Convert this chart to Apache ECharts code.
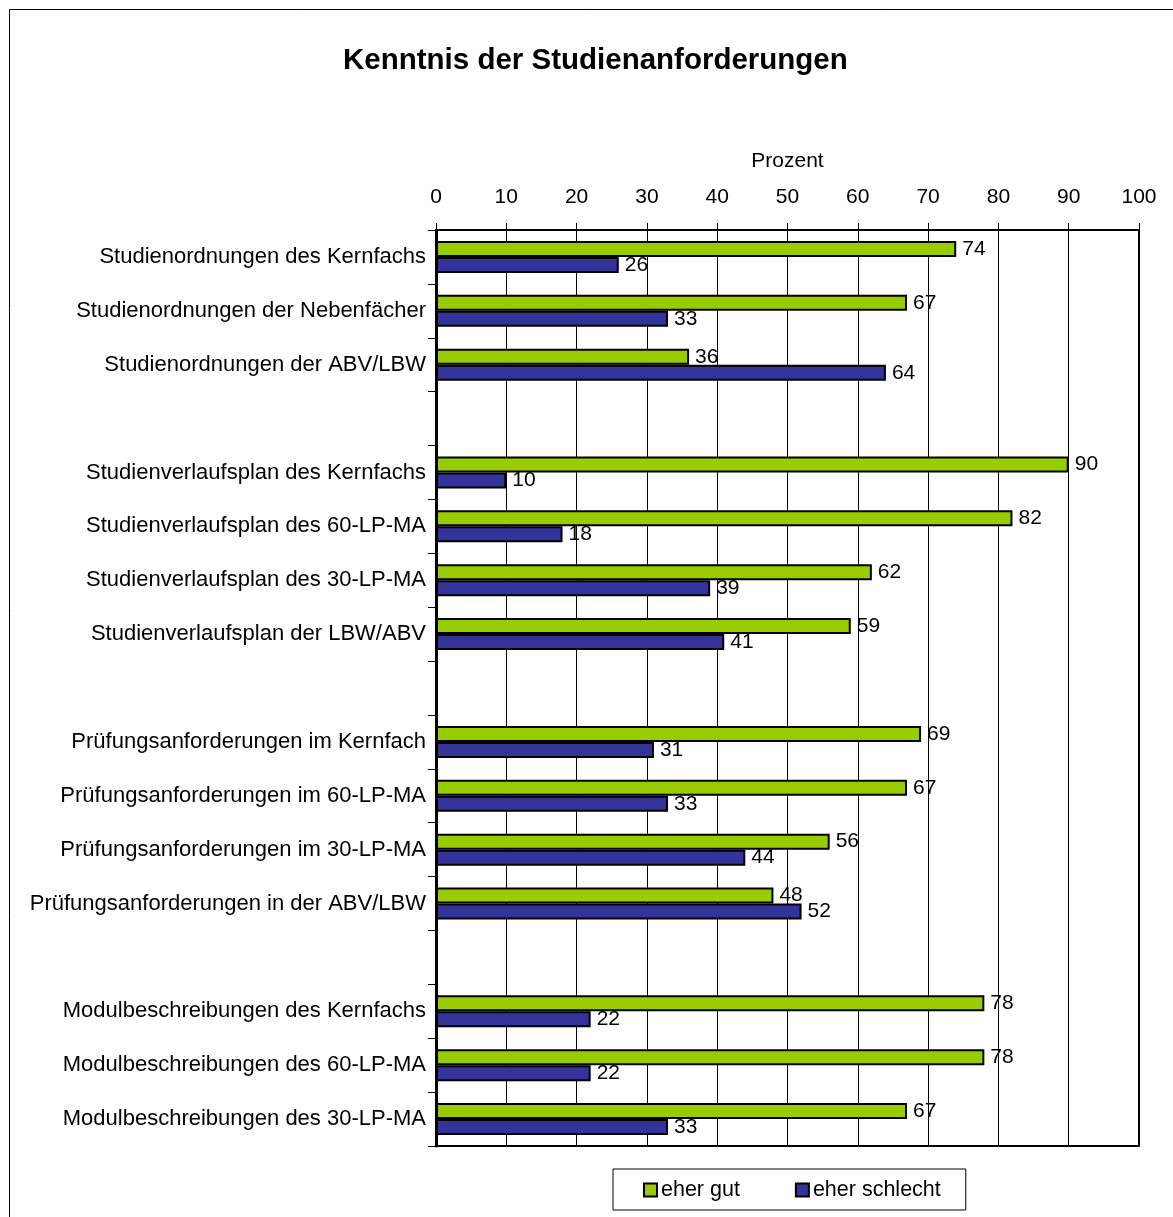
<!DOCTYPE html>
<html>
<head>
<meta charset="utf-8">
<script src="https://cdn.jsdelivr.net/npm/echarts@6/dist/echarts.min.js"></script>
<style>
html, body { margin: 0; padding: 0; background: #fff; }
#chart { width: 1173px; height: 1217px; }
</style>
</head>
<body>
<div id="chart"></div>
<script>
// Kategorien (leere Einträge = Abstand zwischen den Gruppen)
var categories = [
	'Studienordnungen des Kernfachs',
	'Studienordnungen der Nebenfächer',
	'Studienordnungen der ABV/LBW',
	'',
	'Studienverlaufsplan des Kernfachs',
	'Studienverlaufsplan des 60-LP-MA',
	'Studienverlaufsplan des 30-LP-MA',
	'Studienverlaufsplan der LBW/ABV',
	'',
	'Prüfungsanforderungen im Kernfach',
	'Prüfungsanforderungen im 60-LP-MA',
	'Prüfungsanforderungen im 30-LP-MA',
	'Prüfungsanforderungen in der ABV/LBW',
	'',
	'Modulbeschreibungen des Kernfachs',
	'Modulbeschreibungen des 60-LP-MA',
	'Modulbeschreibungen des 30-LP-MA'
];
var eherGut = [74, 67, 36, '-', 90, 82, 62, 59, '-', 69, 67, 56, 48, '-', 78, 78, 67];
var eherSchlecht = [26, 33, 64, '-', 10, 18, 39, 41, '-', 31, 33, 44, 52, '-', 22, 22, 33];
var axisTicks = [0, 10, 20, 30, 40, 50, 60, 70, 80, 90, 100];

var myChart = echarts.init(document.getElementById('chart'));
var barLabel = {
	show: true,
	position: 'right',
	distance: 6,
	color: '#000',
	fontSize: 21,
	fontFamily: 'Liberation Sans'
};
option = {
	backgroundColor: '#fff',
	animation: false,
	title: {
		text: 'Kenntnis der Studienanforderungen',
		left: 338,
		top: 41,
		textStyle: {
			color: '#000',
			fontFamily: 'Liberation Sans',
			fontSize: 29.5,
			fontWeight: 'bold'
		}
	},
	graphic: [{
		type: 'rect',
		shape: { x: 9.5, y: 9.5, width: 1180, height: 1220 },
		style: { fill: 'none', stroke: '#000', lineWidth: 1 },
		silent: true
	}],
	legend: {
		bottom: 7,
		left: 613,
		itemWidth: 13,
		itemHeight: 13,
		itemGap: 55,
		padding: [10, 25, 9, 30],
		borderColor: '#000',
		borderWidth: 1,
		textStyle: { fontFamily: 'Liberation Sans', fontSize: 21.5, color: '#000', padding: [0, 0, 0, -1] },
		data: [
			{ name: 'eher gut', icon: 'rect' },
			{ name: 'eher schlecht', icon: 'rect' }
		]
	},
	grid: {
		left: 436,
		right: 34,
		top: 230,
		bottom: 71
	},
	xAxis: [{
		type: 'value',
		position: 'top',
		min: 0,
		max: 100,
		interval: 10,
		name: 'Prozent',
		nameLocation: 'middle',
		nameGap: 58,
		nameTextStyle: { fontFamily: 'Liberation Sans', fontSize: 21, color: '#000' },
		axisLine: { show: true, lineStyle: { color: '#000', width: 2 } },
		axisTick: { show: true, length: 7, lineStyle: { color: '#000' } },
		axisLabel: {
			margin: 22,
			fontFamily: 'Liberation Sans',
			fontSize: 21,
			color: '#000',
			formatter: function (v) { return axisTicks.indexOf(v) >= 0 ? String(v) : ''; }
		},
		splitLine: { show: true, lineStyle: { color: '#000', width: 1 } }
	}, {
		// untere Rahmenlinie
		type: 'value',
		position: 'bottom',
		min: 0,
		max: 100,
		axisLine: { show: true, lineStyle: { color: '#000', width: 2 } },
		axisTick: { show: false },
		axisLabel: { show: false },
		splitLine: { show: false }
	}],
	yAxis: {
		type: 'category',
		inverse: true,
		data: categories,
		axisLine: { show: true, lineStyle: { color: '#000', width: 3 } },
		axisTick: { show: true, length: 8, lineStyle: { color: '#000' } },
		axisLabel: {
			margin: 10,
			fontFamily: 'Liberation Sans',
			fontSize: 22,
			color: '#000'
		}
	},
	series: [
		{
			name: 'eher gut',
			type: 'bar',
			data: eherGut,
			barWidth: 16,
			barGap: '0%',
			itemStyle: { color: '#99CC00', borderColor: '#000', borderWidth: 2 },
			label: barLabel
		},
		{
			name: 'eher schlecht',
			type: 'bar',
			data: eherSchlecht,
			barWidth: 16,
			barGap: '0%',
			itemStyle: { color: '#333399', borderColor: '#000', borderWidth: 2 },
			label: barLabel
		},
		{
			// Rahmen rechts der Zeichenfläche
			type: 'line',
			data: [],
			markLine: {
				silent: true,
				symbol: 'none',
				label: { show: false },
				lineStyle: { color: '#000', width: 2, type: 'solid' },
				data: [{ xAxis: 100 }]
			}
		}
	]
};
myChart.setOption(option, true);
</script>
</body>
</html>
